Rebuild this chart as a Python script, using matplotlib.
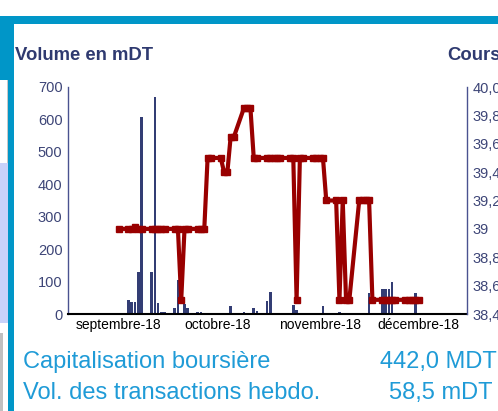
import matplotlib.pyplot as plt
import matplotlib.patches as mpatches
import pandas as pd

plt.rcParams["font.family"] = ["Liberation Sans", "DejaVu Sans"]

# trading days shown on the chart
dates = pd.bdate_range("2018-08-31", "2018-11-30")

# daily volume (mDT)
volume = [0,
          43, 38, 36, 130, 609,
          130, 670, 35, 7, 7,
          18, 105, 0, 30, 18,
          6, 6, 0, 3, 0,
          1, 2, 0, 24, 0,
          7, 0, 0, 18, 10,
          40, 68, 0, 0, 0,
          0, 28, 12, 0, 0,
          0, 0, 0, 24, 0,
          1, 6, 4, 0, 0,
          1, 0, 0, 64, 0,
          77, 77, 77, 99, 0,
          0, 0, 0, 64, 0]

# closing price (DT)
price = [39.00,
         39.00, 39.00, 39.01, 39.00, 39.00,
         39.00, 39.00, 39.00, 39.00, 39.00,
         39.00, 39.00, 38.50, 39.00, 39.00,
         39.00, 39.00, 39.00, 39.50, 39.50,
         39.50, 39.40, 39.40, 39.65, 39.65,
         39.85, 39.85, 39.85, 39.50, 39.50,
         39.50, 39.50, 39.50, 39.50, 39.50,
         39.50, 39.50, 38.50, 39.50, 39.50,
         39.50, 39.50, 39.50, 39.50, 39.20,
         39.20, 38.50, 39.20, 38.50, 38.50,
         39.20, 39.20, 39.20, 39.20, 38.50,
         38.50, 38.50, 38.50, 38.50, 38.50,
         38.50, 38.50, 38.50, 38.50, 38.50]

month_labels = ["septembre-18", "octobre-18", "novembre-18", "décembre-18"]
month_starts = pd.to_datetime(["2018-09-01", "2018-10-01", "2018-11-01", "2018-12-01"])
vol_ticks = [0, 100, 200, 300, 400, 500, 600, 700]
price_ticks = [38.4, 38.6, 38.8, 39.0, 39.2, 39.4, 39.6, 39.8, 40.0]
price_labels = ["38,4", "38,6", "38,8", "39", "39,2", "39,4", "39,6", "39,8", "40,0"]

W, H = 498, 411
navy = "#333d74"
red = "#990000"
frame_blue = "#0096c8"
text_blue = "#1f9bd7"
tick_col = "#3d4577"

fig = plt.figure(figsize=(W / 100, H / 100), dpi=100)

# page decoration around the chart
def box(x, y, w, h, color):
    fig.patches.append(mpatches.Rectangle((x / W, 1 - (y + h) / H), w / W, h / H,
                                          transform=fig.transFigure, color=color, lw=0))

box(0, 16, W, 8, frame_blue)
box(0, 16, 14, 64, frame_blue)
box(8, 16, 6, H - 16, frame_blue)
box(0, 163, 8, 160, "#c8d2fa")
box(0, 333, 3, 78, "#c0c0c0")
box(7, 80, 1, 83, "#c8c8c8")

ax = fig.add_axes([68 / W, 1 - 314 / H, (467 - 68) / W, (314 - 87) / H])
ax.bar(dates, volume, width=0.8, color=navy, zorder=2)
ax.set_ylim(0, 700)
ax.set_yticks(vol_ticks)
ax.tick_params(axis="y", length=0, pad=4, labelsize=10.5, labelcolor=tick_col)

sep3 = pd.Timestamp("2018-09-03")
ax.set_xlim(sep3 - pd.Timedelta(days=18.35), sep3 + pd.Timedelta(days=102.7))
ax.set_xticks(month_starts - pd.Timedelta(days=1))
ax.set_xticklabels(month_labels)
ax.tick_params(axis="x", length=0, pad=3, labelsize=10, labelcolor="black")

for side in ["top", "right"]:
    ax.spines[side].set_visible(False)
ax.spines["left"].set_color("#4a5290")
ax.spines["left"].set_linewidth(1)
ax.spines["bottom"].set_color("black")
ax.spines["bottom"].set_linewidth(1.5)

ax2 = ax.twinx()
ax2.plot(dates, price, color=red, lw=3, marker="s", markersize=4.8,
         solid_joinstyle="miter", zorder=3)
ax2.set_ylim(38.4, 40.0)
ax2.set_yticks(price_ticks)
ax2.set_yticklabels(price_labels)
ax2.tick_params(axis="y", length=0, pad=4, labelsize=10.5, labelcolor=tick_col)
for side in ["top", "left", "bottom"]:
    ax2.spines[side].set_visible(False)
ax2.spines["right"].set_color("#4a5290")
ax2.spines["right"].set_linewidth(1)

title_kw = dict(fontsize=13.3, fontweight="bold", color="#2f3a70")
fig.text(15 / W, 1 - 60 / H, "Volume en mDT", va="baseline", **title_kw)
fig.text(447 / W, 1 - 60 / H, "Cours", va="baseline", **title_kw)

info_kw = dict(fontsize=17, color=text_blue, va="baseline")
fig.text(23 / W, 1 - 368 / H, "Capitalisation boursière", **info_kw)
fig.text(497 / W, 1 - 368 / H, "442,0 MDT", ha="right", **info_kw)
fig.text(23 / W, 1 - 399 / H, "Vol. des transactions hebdo.", **info_kw)
fig.text(492 / W, 1 - 399 / H, "58,5 mDT", ha="right", **info_kw)

fig.savefig("out.png", dpi=100)
